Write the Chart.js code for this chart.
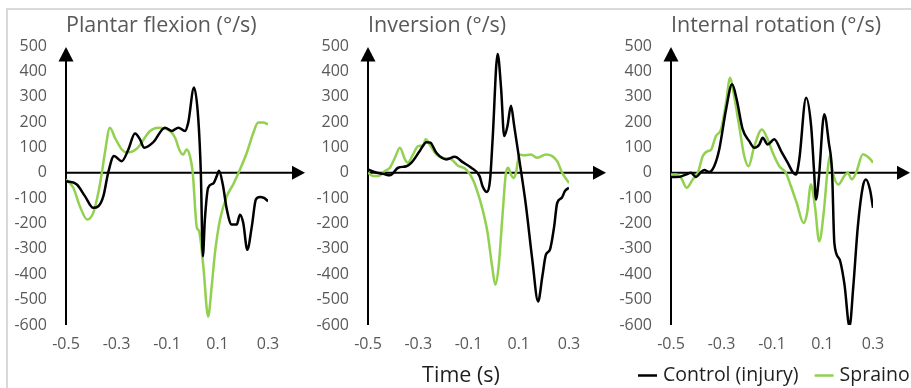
<!DOCTYPE html>
<html><head><meta charset="utf-8">
<script src="https://cdn.jsdelivr.net/npm/chart.js@4.4.1/dist/chart.umd.min.js"></script>
<style>
html,body{margin:0;padding:0;background:#fff;overflow:hidden;width:911px;height:388px;position:relative;}
.frame{position:absolute;left:6px;top:8px;width:1000px;height:500px;border-left:2px solid #d9d9d9;border-top:2px solid #d9d9d9;}
canvas{position:absolute;top:0;}
</style></head><body>
<div class="frame"></div>
<canvas id="c1" width="310" height="388" style="left:0px"></canvas>
<canvas id="c2" width="310" height="388" style="left:300px"></canvas>
<canvas id="c3" width="311" height="388" style="left:600px"></canvas>
<script>
// ---- data ----
const seriesNames = ['Control (injury)', 'Spraino'];
const titles = ['Plantar flexion (°/s)', 'Inversion (°/s)', 'Internal rotation (°/s)'];
const xAxisTitle = 'Time (s)';
const xTickLabels = [-0.5, -0.3, -0.1, 0.1, 0.3];
const yTickLabels = [-600, -500, -400, -300, -200, -100, 0, 100, 200, 300, 400, 500];

// Plantar flexion
const pfControlT = [-0.5,-0.457,-0.425,-0.392,-0.372,-0.352,-0.333,-0.31,-0.279,-0.253,-0.227,-0.207,-0.191,-0.154,-0.108,-0.081,-0.055,-0.029,-0.016,0.007,0.024,0.034,0.042,0.05,0.063,0.083,0.097,0.106,0.121,0.137,0.156,0.176,0.189,0.202,0.218,0.236,0.252,0.268,0.284,0.3];
const pfControlV = [-33,-46,-92,-138,-132,-92,0,66,46,92,155,132,99,121,178,165,178,165,198,336,211,0,-329,-184,-59,-42,-13,8,-46,-145,-204,-204,-165,-198,-303,-211,-105,-95,-99,-112];
const pfSprainT = [-0.5,-0.471,-0.445,-0.416,-0.392,-0.372,-0.358,-0.346,-0.326,-0.306,-0.279,-0.259,-0.22,-0.167,-0.135,-0.088,-0.068,-0.049,-0.036,-0.022,-0.009,0.002,0.018,0.027,0.044,0.063,0.077,0.09,0.11,0.137,0.162,0.189,0.216,0.242,0.261,0.281,0.3];
const pfSprainV = [-26,-59,-132,-184,-158,-79,0,79,178,138,92,80,95,165,178,165,138,86,72,92,66,0,-215,-230,-370,-567,-448,-316,-184,-92,-46,13,79,158,198,198,191];

// Inversion
const invControlT = [-0.5,-0.465,-0.44,-0.413,-0.38,-0.347,-0.327,-0.294,-0.267,-0.252,-0.228,-0.188,-0.155,-0.123,-0.089,-0.056,-0.044,-0.026,-0.014,-0.004,0.016,0.03,0.042,0.055,0.069,0.082,0.102,0.129,0.154,0.177,0.194,0.208,0.224,0.241,0.253,0.271,0.284,0.3];
const invControlV = [13,0,-4,-10,20,26,40,86,121,119,79,53,63,42,20,-13,-53,-76,-26,132,468,329,145,184,264,184,53,-132,-343,-507,-408,-323,-303,-211,-119,-99,-72,-59];
const invSprainT = [-0.5,-0.479,-0.459,-0.433,-0.413,-0.393,-0.373,-0.353,-0.341,-0.321,-0.301,-0.281,-0.27,-0.255,-0.228,-0.202,-0.168,-0.143,-0.109,-0.083,-0.063,-0.044,-0.024,-0.006,0.007,0.02,0.036,0.049,0.058,0.069,0.078,0.089,0.102,0.122,0.148,0.174,0.208,0.233,0.253,0.273,0.3];
const invSprainV = [0,-13,-13,7,20,59,99,53,40,72,105,108,132,112,72,59,53,29,13,-26,-79,-145,-237,-369,-441,-369,-158,0,20,-7,-20,0,72,69,72,59,72,66,46,0,-40];

// Internal rotation
const irControlT = [-0.5,-0.467,-0.441,-0.421,-0.401,-0.381,-0.368,-0.349,-0.329,-0.309,-0.282,-0.258,-0.24,-0.216,-0.19,-0.17,-0.15,-0.137,-0.117,-0.091,-0.064,-0.038,-0.016,-0.005,0.008,0.035,0.055,0.067,0.074,0.085,0.107,0.125,0.138,0.147,0.167,0.187,0.207,0.222,0.24,0.26,0.272,0.288,0.3];
const irControlV = [-17,-16,-7,0,-16,3,11,3,26,92,250,349,290,171,125,99,112,138,112,132,86,40,0,-7,53,296,184,0,-105,-26,231,119,0,-277,-340,-440,-606,-448,-211,-53,-26,-66,-138];
const irSprainT = [-0.5,-0.48,-0.46,-0.438,-0.414,-0.394,-0.374,-0.354,-0.342,-0.322,-0.302,-0.282,-0.266,-0.25,-0.23,-0.21,-0.193,-0.17,-0.14,-0.117,-0.097,-0.071,-0.045,-0.025,-0.002,0.025,0.039,0.054,0.07,0.087,0.106,0.119,0.13,0.141,0.163,0.186,0.2,0.216,0.233,0.26,0.275,0.29,0.3];
const irSprainV = [-7,-7,-20,-59,-26,0,66,86,90,145,171,277,375,303,184,66,26,105,171,132,79,26,0,-53,-119,-198,-158,-46,-132,-270,-145,0,66,0,-46,-13,0,-26,0,73,66,53,40];

const colors = ['#000000', '#92D050'];
const FONT = "'Open Sans', 'DejaVu Sans', sans-serif";

function pts(t, v) { return t.map((x, i) => ({x: x, y: v[i]})); }

const axisAndText = {
  id: 'axisAndText',
  beforeDatasetsDraw(chart) {
    const {ctx, chartArea: {left, right, top, bottom}, scales: {x, y}} = chart;
    const y0 = y.getPixelForValue(0);
    const x0 = x.getPixelForValue(x.min);
    ctx.save();
    ctx.strokeStyle = '#000'; ctx.fillStyle = '#000'; ctx.lineWidth = 2;
    // vertical axis with arrow
    ctx.beginPath(); ctx.moveTo(x0, bottom); ctx.lineTo(x0, top + 10); ctx.stroke();
    ctx.beginPath(); ctx.moveTo(x0, top + 1); ctx.lineTo(x0 - 7.5, top + 15.5); ctx.lineTo(x0 + 7.5, top + 15.5); ctx.closePath(); ctx.fill();
    // horizontal axis with arrow
    const tip = right + 37;
    ctx.beginPath(); ctx.moveTo(x0, y0); ctx.lineTo(tip - 8, y0); ctx.stroke();
    ctx.beginPath(); ctx.moveTo(tip, y0); ctx.lineTo(tip - 13, y0 - 7); ctx.lineTo(tip - 13, y0 + 7); ctx.closePath(); ctx.fill();
    ctx.restore();
  },
  afterDraw(chart, args, opts) {
    const {ctx, chartArea: {left}} = chart;
    ctx.save();
    ctx.textBaseline = 'alphabetic';
    ctx.textAlign = 'left';
    ctx.fillStyle = '#595959';
    ctx.font = '21.5px ' + FONT;
    ctx.fillText(opts.title, left, 32);
    if (opts.xTitle) {
      ctx.fillStyle = '#1f1f1f';
      ctx.textAlign = 'center';
      ctx.font = '21.5px ' + FONT;
      ctx.fillText(opts.xTitle, left + 93, 382);
    }
    if (opts.legend) {
      ctx.font = '19.5px ' + FONT;
      ctx.textAlign = 'left';
      let lx = left - 33;
      chart.data.datasets.forEach(ds => {
        ctx.strokeStyle = ds.borderColor; ctx.lineWidth = 2.5;
        ctx.beginPath(); ctx.moveTo(lx, 375.5); ctx.lineTo(lx + 19, 375.5); ctx.stroke();
        ctx.fillStyle = '#1f1f1f';
        ctx.fillText(ds.label, lx + 25, 381);
        lx += 25 + ctx.measureText(ds.label).width + 16;
      });
    }
    ctx.restore();
  }
};

function makeChart(id, title, cT, cV, sT, sV, padLeft, padRight, extra) {
  return new Chart(document.getElementById(id), {
    type: 'line',
    data: {
      datasets: [
        {label: seriesNames[0], data: pts(cT, cV), borderColor: colors[0], backgroundColor: colors[0], borderWidth: 2.5, pointRadius: 0, cubicInterpolationMode: 'monotone'},
        {label: seriesNames[1], data: pts(sT, sV), borderColor: colors[1], backgroundColor: colors[1], borderWidth: 2.5, pointRadius: 0, cubicInterpolationMode: 'monotone'}
      ]
    },
    options: {
      responsive: false, animation: false, devicePixelRatio: 1, events: [],
      layout: {padding: {left: padLeft, right: padRight, top: 46, bottom: 33}},
      plugins: {
        legend: {display: false}, tooltip: {enabled: false}, title: {display: false},
        axisAndText: Object.assign({title: title}, extra)
      },
      scales: {
        x: {
          type: 'linear', min: -0.5, max: 0.3,
          grid: {display: false, drawTicks: false}, border: {display: false},
          afterBuildTicks: s => { s.ticks = xTickLabels.map(v => ({value: v})); },
          afterFit: s => { s.height = 30; },
          ticks: {padding: 10, color: '#595959', font: {family: FONT, size: 16}, maxRotation: 0, autoSkip: false,
                  callback: v => String(v)}
        },
        y: {
          type: 'linear', min: -600, max: 500,
          grid: {display: false, drawTicks: false}, border: {display: false},
          afterBuildTicks: s => { s.ticks = yTickLabels.map(v => ({value: v})); },
          afterFit: s => { s.width = 58; },
          ticks: {padding: 19, color: '#595959', font: {family: FONT, size: 16}, autoSkip: false}
        }
      }
    },
    plugins: [axisAndText]
  });
}

function build() {
  makeChart('c1', titles[0], pfControlT, pfControlV, pfSprainT, pfSprainV, 8, 42, {});
  makeChart('c2', titles[1], invControlT, invControlV, invSprainT, invSprainV, 10, 41, {xTitle: xAxisTitle});
  makeChart('c3', titles[2], irControlT, irControlV, irSprainT, irSprainV, 13, 38, {legend: true});
}
if (document.fonts && document.fonts.load) {
  Promise.all([document.fonts.load("16px 'Open Sans'"), document.fonts.load("21px 'Open Sans'")]).then(build, build);
} else { build(); }
</script>
</body></html>
